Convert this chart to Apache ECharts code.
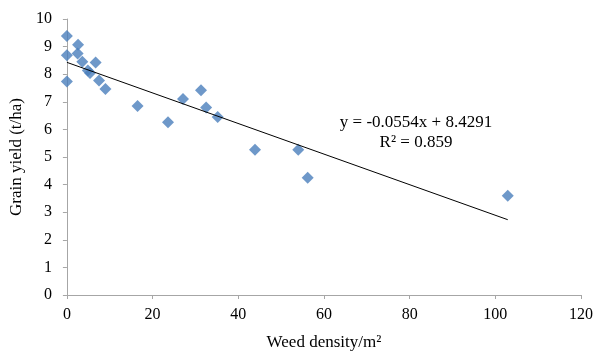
<!DOCTYPE html>
<html>
<head>
<meta charset="utf-8">
<script src="https://cdn.jsdelivr.net/npm/echarts@6/dist/echarts.min.js"></script>
<style>
  html, body { margin: 0; padding: 0; background: #fff; }
  #chart { width: 596px; height: 356px; }
</style>
</head>
<body>
<div id="chart"></div>
<script>
// weed density (plants/m2) vs grain yield (t/ha)
const weedDensity = [0, 0, 0, 2.6, 2.5, 3.6, 4.9, 5.4, 6.7, 7.5, 9.0, 16.5, 23.6, 27.1, 31.3, 32.5, 35.2, 43.9, 54.0, 56.2, 102.9];
const grainYield = [9.38, 8.69, 7.74, 9.07, 8.75, 8.45, 8.13, 8.04, 8.42, 7.77, 7.46, 6.85, 6.26, 7.1, 7.42, 6.79, 6.45, 5.26, 5.26, 4.25, 3.6];

// linear trendline as printed on the chart
const slope = -0.0554;
const intercept = 8.4291;
const trendLabel = ["y = -0.0554x + 8.4291", "R\u00b2 = 0.859"];

const font = "'Liberation Serif', 'Times New Roman', serif";

const points = weedDensity.map((x, i) => [x, grainYield[i]]);
const xMax = Math.max(...weedDensity);
const trend = [[0, intercept], [xMax, intercept + slope * xMax]];

const chart = echarts.init(document.getElementById("chart"));

chart.setOption({
    animation: false,
    backgroundColor: "#fff",
    grid: { left: 65, right: 13, top: 19, bottom: 54 },
    xAxis: {
        type: "value",
        min: 0,
        max: 120,
        interval: 20,
        name: "Weed density/m\u00b2",
        nameLocation: "middle",
        nameGap: 39,
        nameTextStyle: { fontFamily: font, fontSize: 17, color: "#000" },
        axisLine: { lineStyle: { color: "#a6a6a6" } },
        axisTick: { show: true, length: 4, lineStyle: { color: "#a6a6a6" } },
        axisLabel: { fontFamily: font, fontSize: 16, color: "#000", margin: 12 },
        splitLine: { show: false },
    },
    yAxis: {
        type: "value",
        min: 0,
        max: 10,
        interval: 1,
        name: "Grain yield (t/ha)",
        nameLocation: "middle",
        nameGap: 37,
        nameRotate: 90,
        nameTextStyle: { fontFamily: font, fontSize: 17, color: "#000" },
        axisLine: { show: true, lineStyle: { color: "#a6a6a6" } },
        axisTick: { show: true, length: 4, lineStyle: { color: "#a6a6a6" } },
        axisLabel: { fontFamily: font, fontSize: 16, color: "#000", margin: 15 },
        splitLine: { show: false },
    },
    series: [
        {
            type: "line",
            data: trend,
            symbol: "none",
            lineStyle: { color: "#000", width: 1 },
            z: 3,
        },
        {
            type: "scatter",
            data: points,
            symbol: "diamond",
            symbolSize: 12,
            itemStyle: { color: "#4a7ebb" },
            z: 2,
        },
    ],
    graphic: trendLabel.map((t, i) => ({
        type: "text",
        x: 416,
        y: 123 + i * 20,
        style: {
            text: t,
            fontFamily: font,
            fontSize: 17,
            fill: "#000",
            align: "center",
            verticalAlign: "middle",
        },
    })),
});
</script>
</body>
</html>
